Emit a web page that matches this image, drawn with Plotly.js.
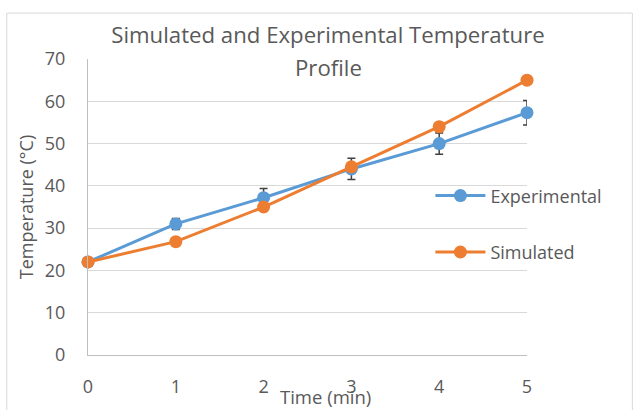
<!DOCTYPE html>
<html>
<head>
<meta charset="utf-8">
<script src="https://cdn.plot.ly/plotly-3.0.1.min.js"></script>
<style>html,body{margin:0;padding:0;background:#fff;}#chart{width:637px;height:410px;}</style>
</head>
<body>
<div id="chart"></div>
<script>
const timeMin = [0, 1, 2, 3, 4, 5];
const experimental = [22, 31, 37.2, 44, 50, 57.3];
const experimentalErr = [0, 1.3, 2.2, 2.5, 2.5, 2.9];
const simulated = [22, 26.8, 35, 44.5, 54, 65];
const yTicks = [0, 10, 20, 30, 40, 50, 60, 70];
const xTicks = [0, 1, 2, 3, 4, 5];

const FONT = "Open Sans, sans-serif";
const GREY = "#595959";

const traces = [
  {
    x: timeMin, y: experimental, name: "Experimental", type: "scatter", mode: "lines+markers",
    line: {color: "#5b9bd5", width: 3}, marker: {color: "#5b9bd5", size: 13},
    error_y: {type: "data", array: experimentalErr, visible: true, color: "#404040", thickness: 1.5, width: 4},
    cliponaxis: false, legendgroup: "a"
  },
  {
    x: timeMin, y: simulated, name: "Simulated", type: "scatter", mode: "lines+markers",
    line: {color: "#ed7d31", width: 3}, marker: {color: "#ed7d31", size: 13},
    cliponaxis: false, legendgroup: "b"
  }
];

const layout = {
  width: 637, height: 410,
  margin: {l: 88, r: 110, t: 59, b: 55},
  paper_bgcolor: "#fff", plot_bgcolor: "#fff",
  font: {family: FONT, color: GREY, size: 17},
  title: {text: "Simulated and Experimental Temperature", font: {family: FONT, size: 22.2, color: GREY},
          x: 328 / 637, xanchor: "center", y: 0.914, yanchor: "middle", yref: "container"},
  annotations: [
    {text: "Profile", xref: "paper", yref: "paper", x: (328 - 88) / 439, y: 0.97, xanchor: "center", yanchor: "middle",
     showarrow: false, font: {family: FONT, size: 22.2, color: GREY}},
    {text: "Time (min)", xref: "paper", yref: "paper", x: (325 - 88) / 439, y: -(396 - 355) / 296,
     xanchor: "center", yanchor: "middle", showarrow: false, font: {family: FONT, size: 18.5, color: GREY}}
  ],
  xaxis: {
    range: [0, 5], tickvals: xTicks, ticktext: xTicks.map(String), showgrid: false, zeroline: false,
    showline: true, linecolor: "#bfbfbf", linewidth: 1, ticks: "", ticklen: 0, ticklabelstandoff: 15,
    tickfont: {family: FONT, size: 18, color: GREY}
  },
  yaxis: {
    range: [0, 70], tickvals: yTicks, showgrid: true, gridcolor: "#d9d9d9", gridwidth: 1, zeroline: false,
    showline: true, linecolor: "#bfbfbf", linewidth: 1, ticks: "", ticklabelstandoff: 18,
    tickfont: {family: FONT, size: 18, color: GREY},
    title: {text: "Temperature (°C)", font: {family: FONT, size: 18, color: GREY}, standoff: 6}
  },
  legend: {
    x: 0.78, y: 0.6, xanchor: "left", yanchor: "top", bgcolor: "rgba(0,0,0,0)",
    traceorder: "grouped", tracegroupgap: 30, itemwidth: 50,
    font: {family: FONT, size: 18, color: GREY}
  },
  shapes: [{type: "rect", xref: "paper", yref: "paper", x0: -0.185, x1: 1.24, y0: -0.2, y1: 1.155,
            line: {color: "#d9d9d9", width: 1}, fillcolor: "rgba(0,0,0,0)", layer: "below"}],
  showlegend: true
};

Plotly.newPlot("chart", traces, layout, {displayModeBar: false, staticPlot: true});
</script>
</body>
</html>
